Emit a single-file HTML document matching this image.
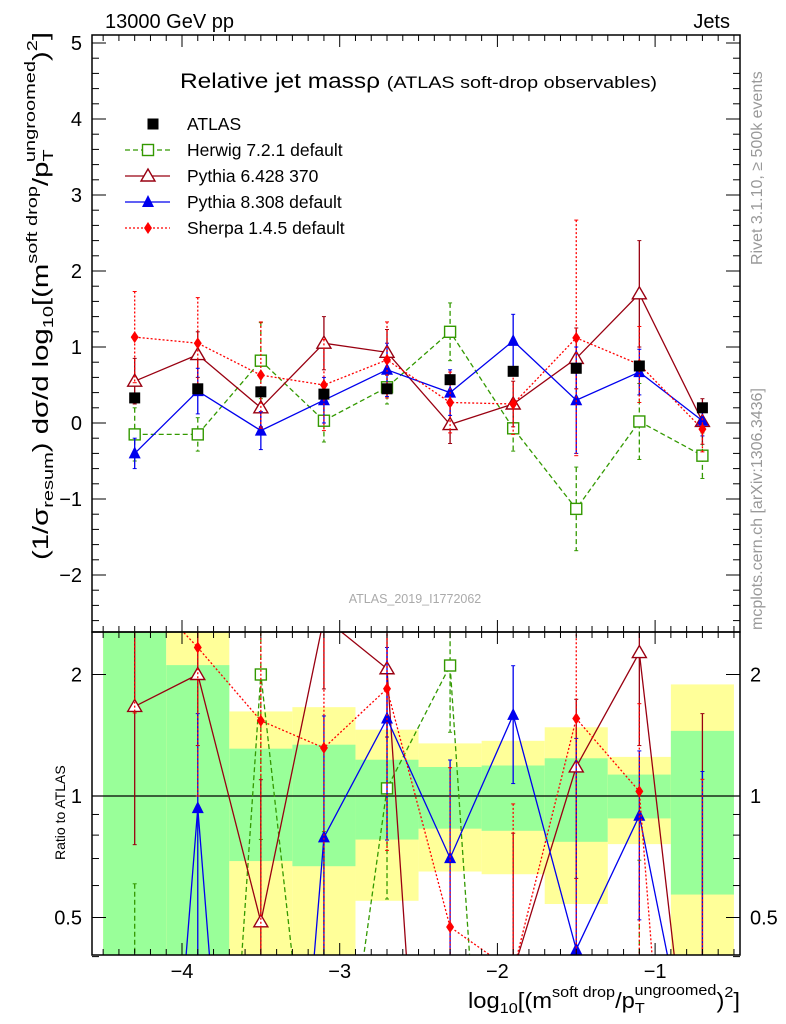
<!DOCTYPE html>
<html><head><meta charset="utf-8"><style>
body{margin:0;background:#fff;overflow:hidden}
svg{display:block;font-family:"Liberation Sans",sans-serif}
</style></head><body>
<svg id="c" width="786" height="1024" viewBox="0 0 786 1024">
<defs>
<clipPath id="cm"><rect x="92" y="35" width="648" height="597"/></clipPath>
<clipPath id="cr"><rect x="92" y="632" width="648" height="323"/></clipPath>
</defs>
<g id="bands" clip-path="url(#cr)"></g>
<g id="series"></g>
<g id="axes"></g>
<text x="105" y="28" font-size="20">13000 GeV pp</text>
<text x="730" y="28" font-size="20" text-anchor="end">Jets</text>
<text x="180" y="88" font-size="21" textLength="477" lengthAdjust="spacingAndGlyphs">Relative jet massρ <tspan font-size="17">(ATLAS soft-drop observables)</tspan></text>
<text x="415" y="603" font-size="12.5" fill="#aaa" text-anchor="middle">ATLAS_2019_I1772062</text>
<text transform="translate(762,265) rotate(-90)" font-size="16" fill="#999">Rivet 3.1.10, ≥ 500k events</text>
<text transform="translate(762,630) rotate(-90)" font-size="16" fill="#999">mcplots.cern.ch [arXiv:1306.3436]</text>
<text transform="translate(48,560) rotate(-90)" font-size="22" textLength="528" lengthAdjust="spacingAndGlyphs">(1/σ<tspan font-size="15" dy="5">resum</tspan><tspan dy="-5">) dσ/d log</tspan><tspan font-size="15" dy="5">10</tspan><tspan dy="-5">[(m</tspan><tspan font-size="15" dy="-11">soft drop</tspan><tspan dy="11">/p</tspan><tspan font-size="15" dy="5">T</tspan><tspan font-size="15" dy="-18" dx="-9">ungroomed</tspan><tspan dy="13">)</tspan><tspan font-size="15" dy="-11">2</tspan><tspan dy="11">]</tspan></text>
<text transform="translate(65,860) rotate(-90)" font-size="14">Ratio to ATLAS</text>
<text x="468" y="1008" font-size="22" textLength="272" lengthAdjust="spacingAndGlyphs">log<tspan font-size="15" dy="5">10</tspan><tspan dy="-5">[(m</tspan><tspan font-size="15" dy="-11">soft drop</tspan><tspan dy="11">/p</tspan><tspan font-size="15" dy="5">T</tspan><tspan font-size="15" dy="-18" dx="-9">ungroomed</tspan><tspan dy="13">)</tspan><tspan font-size="15" dy="-11">2</tspan><tspan dy="11">]</tspan></text>
<g id="legend"></g>
</svg>
<script>
const xCenters=[-4.3,-3.9,-3.5,-3.1,-2.7,-2.3,-1.9,-1.5,-1.1,-0.7];
const atlasVals=[0.33,0.45,0.41,0.38,0.45,0.57,0.68,0.72,0.75,0.2];
const atlasErr=[0.04,0.04,0.04,0.04,0.04,0.04,0.04,0.05,0.05,0.04];
const herwigVals=[-0.15,-0.15,0.82,0.03,0.47,1.2,-0.07,-1.13,0.02,-0.43];
const herwigErr=[0.35,0.22,0.5,0.28,0.22,0.38,0.3,0.55,0.5,0.3];
const py6Vals=[0.55,0.9,0.2,1.05,0.93,-0.02,0.25,0.85,1.7,0.02];
const py6Err=[0.3,0.3,0.25,0.35,0.3,0.25,0.3,0.4,0.7,0.3];
const py8Vals=[-0.4,0.42,-0.1,0.3,0.7,0.4,1.08,0.3,0.67,0.03];
const py8Err=[0.2,0.3,0.25,0.3,0.35,0.3,0.35,0.7,0.3,0.2];
const sherpaVals=[1.13,1.05,0.63,0.5,0.83,0.27,0.25,1.12,0.77,-0.08];
const sherpaErr=[0.6,0.6,0.7,0.6,0.5,0.4,0.4,1.55,0.5,0.3];
const binLo=[-4.5,-4.1,-3.7,-3.3,-2.9,-2.5,-2.1,-1.7,-1.3,-0.9];
const greenLo=[0.3,0.3,0.69,0.67,0.78,0.83,0.82,0.77,0.88,0.57];
const greenHi=[3,2.11,1.31,1.34,1.23,1.18,1.19,1.24,1.13,1.45];
const yelLo=[0.3,0.3,0.3,0.3,0.55,0.65,0.64,0.54,0.76,0.3];
const yelHi=[3,3,1.62,1.66,1.46,1.35,1.37,1.48,1.25,1.89];
const xTicks=[-4,-3,-2,-1];
const yTicks=[-2,-1,0,1,2,3,4,5];
const rTicks=[0.5,1,2];

const NS="http://www.w3.org/2000/svg";
const X=v=>182+(v+4)*157.7;
const Y=v=>423-v*76;
const R=r=>796-121.5*Math.log2(Math.max(r,0.01));
function mk(p,t,a){const e=document.createElementNS(NS,t);for(const k in a)e.setAttribute(k,a[k]);p.appendChild(e);return e;}
const bands=document.getElementById('bands'),ser=document.getElementById('series'),ax=document.getElementById('axes'),leg=document.getElementById('legend');

for(let i=0;i<binLo.length;i++){
 let r=mk(bands,'rect',{x:X(binLo[i]),y:R(yelHi[i]),width:X(binLo[i]+0.4)-X(binLo[i]),height:R(yelLo[i])-R(yelHi[i]),fill:'#ffff99'});
 
 
 let g=mk(bands,'rect',{x:X(binLo[i]),y:R(greenHi[i]),width:X(binLo[i]+0.4)-X(binLo[i]),height:R(greenLo[i])-R(greenHi[i]),fill:'#99ff99'});
 
 
}
mk(ser,'line',{x1:92,x2:740,y1:R(1),y2:R(1),stroke:'#000','stroke-width':1.2});

function marker(g,type,cx,cy,col){
 const s=5.5;
 if(type==='sq')return mk(g,'rect',{x:cx-s,y:cy-s,width:2*s,height:2*s,fill:col});
 if(type==='osq')return mk(g,'rect',{x:cx-s,y:cy-s,width:2*s,height:2*s,fill:'#fff',stroke:col,'stroke-width':1.4});
 if(type==='otri')return mk(g,'polygon',{points:`${cx},${cy-7} ${cx-7},${cy+5} ${cx+7},${cy+5}`,fill:'#fff',stroke:col,'stroke-width':1.4});
 if(type==='tri')return mk(g,'polygon',{points:`${cx},${cy-7} ${cx-6},${cy+5} ${cx+6},${cy+5}`,fill:col});
 if(type==='dia')return mk(g,'polygon',{points:`${cx},${cy-6} ${cx-4},${cy} ${cx},${cy+6} ${cx+4},${cy}`,fill:col});
}
const S=[
 {name:'herwig',vals:herwigVals,err:herwigErr,col:'#339900',dash:'5,3',m:'osq',label:'Herwig 7.2.1 default'},
 {name:'pythia6',vals:py6Vals,err:py6Err,col:'#990011',dash:'',m:'otri',label:'Pythia 6.428 370'},
 {name:'pythia8',vals:py8Vals,err:py8Err,col:'#0000ee',dash:'',m:'tri',label:'Pythia 8.308 default'},
 {name:'sherpa',vals:sherpaVals,err:sherpaErr,col:'#ff0000',dash:'2,2',m:'dia',label:'Sherpa 1.4.5 default'}
];
function drawSeries(s,ratio){
 const g=mk(ser,'g',{'clip-path':ratio?'url(#cr)':'url(#cm)'});
 
 
 const fy=(v,i)=>ratio?R(v/atlasVals[i]):Y(v);
 const pts=s.vals.map((v,i)=>X(xCenters[i])+','+fy(v,i)).join(' ');
 const pl=mk(g,'polyline',{points:pts,fill:'none',stroke:s.col,'stroke-width':1.3,'stroke-dasharray':s.dash});
 
 
 s.vals.forEach((v,i)=>{
  const cx=X(xCenters[i]);
  const y1=fy(v+s.err[i],i),y2=fy(v-s.err[i],i);
  mk(g,'line',{x1:cx,x2:cx,y1:y1,y2:y2,stroke:s.col,'stroke-width':1.3,'stroke-dasharray':s.dash});
  mk(g,'line',{x1:cx-2,x2:cx+2,y1:y1,y2:y1,stroke:s.col});
  mk(g,'line',{x1:cx-2,x2:cx+2,y1:y2,y2:y2,stroke:s.col});
  const m=marker(g,s.m,cx,fy(v,i),s.col);
  
  
 });
}
const ga=mk(ser,'g',{'clip-path':'url(#cm)'});


S.forEach(s=>{drawSeries(s,false);drawSeries(s,true);});
atlasVals.forEach((v,i)=>{
 const cx=X(xCenters[i]);
 mk(ga,'line',{x1:cx,x2:cx,y1:Y(v+atlasErr[i]),y2:Y(v-atlasErr[i]),stroke:'#000'});
 const m=marker(ga,'sq',cx,Y(v),'#000');
 
 
});
ser.appendChild(ga);

mk(ax,'rect',{x:92,y:35,width:648,height:597,fill:'none',stroke:'#000','stroke-width':1.5});
mk(ax,'rect',{x:92,y:632,width:648,height:323,fill:'none',stroke:'#000','stroke-width':1.5});
for(let v=-4.5;v<=-0.45;v+=0.1){
 const x=X(v);const maj=Math.abs(v-Math.round(v))<0.01;const L=maj?12:6;
 [[35,1],[632,-1],[632,1],[955,-1]].forEach(([y0,d])=>mk(ax,'line',{x1:x,x2:x,y1:y0,y2:y0+d*L,stroke:'#000'}));
}
xTicks.forEach(t=>{const e=mk(ax,'text',{x:X(t),y:978,'font-size':20,'text-anchor':'middle'});e.textContent='−'+Math.abs(t);
 });
for(let v=-2.6;v<=5.05;v+=0.2){
 const y=Y(v);const maj=Math.abs(v-Math.round(v))<0.01;const L=maj?14:7;
 mk(ax,'line',{x1:92,x2:92+L,y1:y,y2:y,stroke:'#000'});mk(ax,'line',{x1:740,x2:740-L,y1:y,y2:y,stroke:'#000'});
}
yTicks.forEach(t=>{const e=mk(ax,'text',{x:82,y:Y(t)+7,'font-size':20,'text-anchor':'end'});e.textContent=(t<0?'−':'')+Math.abs(t);
 });
[0.4,0.5,0.6,0.7,0.8,0.9,1,2].forEach(r=>{const y=R(r);const maj=rTicks.includes(r);const L=maj?14:7;
 mk(ax,'line',{x1:92,x2:92+L,y1:y,y2:y,stroke:'#000'});mk(ax,'line',{x1:740,x2:740-L,y1:y,y2:y,stroke:'#000'});});
rTicks.forEach(r=>{[[82,'end'],[750,'start']].forEach(([x,a])=>{const e=mk(ax,'text',{x:x,y:R(r)+7,'font-size':20,'text-anchor':a});e.textContent=String(r);
 });});

const LS=[{m:'sq',col:'#000',label:'ATLAS',dash:null}].concat(S);
LS.forEach((s,i)=>{
 const y=124+i*26;const g=mk(leg,'g',{});
 
 
 if(s.dash!==null)mk(g,'line',{x1:125,x2:170,y1:y,y2:y,stroke:s.col,'stroke-width':1.3,'stroke-dasharray':s.dash});
 marker(g,s.m,153-(i===0?0:5),y,s.col);
 const t=mk(g,'text',{x:187,y:y+6,'font-size':17.5});t.textContent=s.label;
});
</script>
</body></html>
